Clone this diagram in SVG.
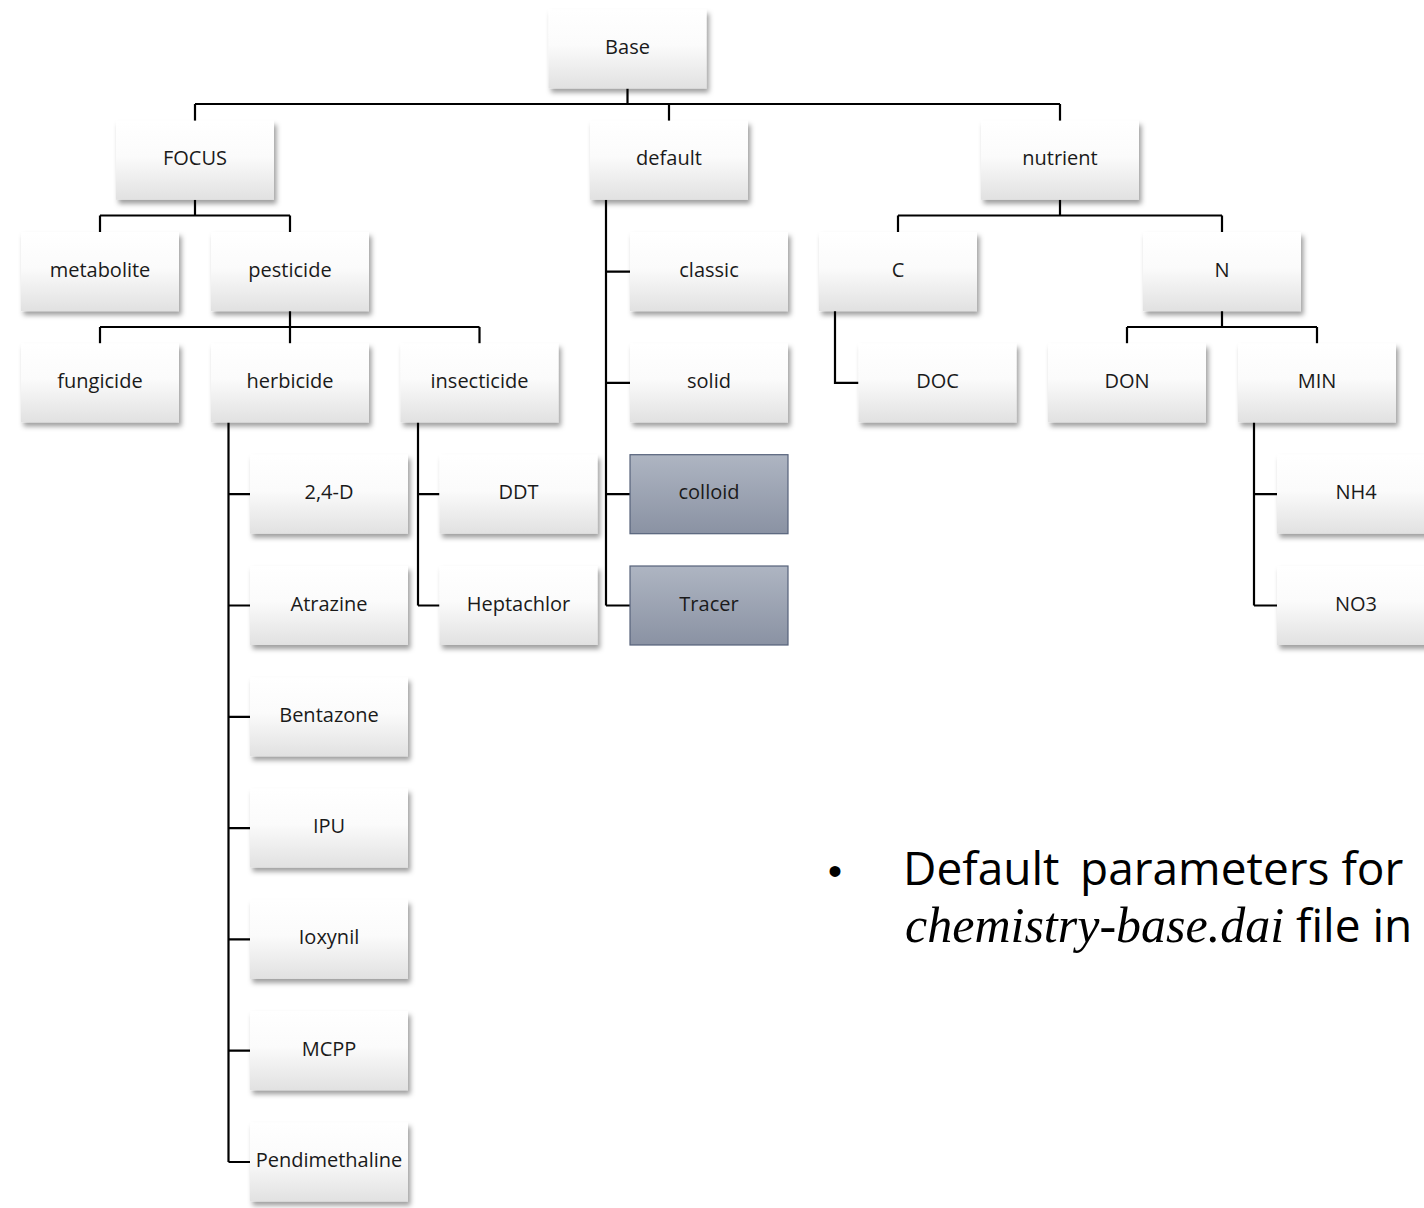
<svg xmlns="http://www.w3.org/2000/svg" width="1424" height="1208" viewBox="0 0 1424 1208">
<defs>
<linearGradient id="gw" x1="0" y1="0" x2="0" y2="1">
<stop offset="0" stop-color="#ffffff"/>
<stop offset="0.45" stop-color="#fbfbfb"/>
<stop offset="1" stop-color="#e1e1e1"/>
</linearGradient>
<linearGradient id="gg" x1="0" y1="0" x2="0" y2="1">
<stop offset="0" stop-color="#aeb5c2"/>
<stop offset="1" stop-color="#8a92a3"/>
</linearGradient>
<filter id="sh" x="-10%" y="-10%" width="130%" height="140%">
<feDropShadow dx="2.5" dy="4" stdDeviation="2.5" flood-color="#000" flood-opacity="0.38"/>
</filter>
</defs>
<style>
.n rect{fill:url(#gw);filter:url(#sh)}
.g rect{fill:url(#gg);stroke:#56627a;stroke-width:1.2}
.n text,.g text{font-family:"Open Sans","Noto Sans","Liberation Sans",sans-serif;font-size:20px;fill:#1a1a1a;text-anchor:middle}
#connectors path{fill:none;stroke:#000;stroke-width:2.2}
.big{font-family:"Open Sans","Noto Sans","Liberation Sans",sans-serif;font-size:46px;fill:#000}
.it{font-family:"Liberation Serif","Times New Roman",serif;font-style:italic;font-size:50px}
</style>
<rect width="1424" height="1208" fill="#fff"/>
<g id="connectors">
<path d="M627.5 88.5V104M195 104H1060M195 104V120.8M669 104V120.8M1060 104V120.8"/>
<path d="M195 199.8V215.5M100 215.5H290M100 215.5V232.1M290 215.5V232.1"/>
<path d="M1060 199.8V215.5M898 215.5H1222M898 215.5V232.1M1222 215.5V232.1"/>
<path d="M290 311.1V327M100 327H479.5M100 327V343.4M290 327V343.4M479.5 327V343.4"/>
<path d="M1222 311.1V327M1127 327H1317M1127 327V343.4M1317 327V343.4"/>
<path d="M606 199.8V605.5M606 271.6H630M606 382.9H630M606 494.2H630M606 605.5H630"/>
<path d="M228.5 422.4V1162M228.5 494.2H250M228.5 605.5H250M228.5 716.8H250M228.5 828.1H250M228.5 939.4H250M228.5 1050.7H250M228.5 1162H250"/>
<path d="M418 422.4V605.5M418 494.2H439.5M418 605.5H439.5"/>
<path d="M835 311.1V382.9H858.5"/>
<path d="M1254 422.4V605.5M1254 494.2H1277M1254 605.5H1277"/>
</g>
<g id="n-base" class="n"><rect x="548.5" y="9.5" width="158" height="79"/><text x="627.5" y="54">Base</text></g>
<g id="n-focus" class="n"><rect x="116" y="120.8" width="158" height="79"/><text x="195" y="165.3">FOCUS</text></g>
<g id="n-default" class="n"><rect x="590" y="120.8" width="158" height="79"/><text x="669" y="165.3">default</text></g>
<g id="n-nutrient" class="n"><rect x="981" y="120.8" width="158" height="79"/><text x="1060" y="165.3">nutrient</text></g>
<g id="n-metabolite" class="n"><rect x="21" y="232.1" width="158" height="79"/><text x="100" y="276.6">metabolite</text></g>
<g id="n-pesticide" class="n"><rect x="211" y="232.1" width="158" height="79"/><text x="290" y="276.6">pesticide</text></g>
<g id="n-classic" class="n"><rect x="630" y="232.1" width="158" height="79"/><text x="709" y="276.6">classic</text></g>
<g id="n-c" class="n"><rect x="819" y="232.1" width="158" height="79"/><text x="898" y="276.6">C</text></g>
<g id="n-n" class="n"><rect x="1143" y="232.1" width="158" height="79"/><text x="1222" y="276.6">N</text></g>
<g id="n-fungicide" class="n"><rect x="21" y="343.4" width="158" height="79"/><text x="100" y="387.9">fungicide</text></g>
<g id="n-herbicide" class="n"><rect x="211" y="343.4" width="158" height="79"/><text x="290" y="387.9">herbicide</text></g>
<g id="n-insecticide" class="n"><rect x="400.5" y="343.4" width="158" height="79"/><text x="479.5" y="387.9">insecticide</text></g>
<g id="n-solid" class="n"><rect x="630" y="343.4" width="158" height="79"/><text x="709" y="387.9">solid</text></g>
<g id="n-doc" class="n"><rect x="858.5" y="343.4" width="158" height="79"/><text x="937.5" y="387.9">DOC</text></g>
<g id="n-don" class="n"><rect x="1048" y="343.4" width="158" height="79"/><text x="1127" y="387.9">DON</text></g>
<g id="n-min" class="n"><rect x="1238" y="343.4" width="158" height="79"/><text x="1317" y="387.9">MIN</text></g>
<g id="n-24d" class="n"><rect x="250" y="454.7" width="158" height="79"/><text x="329" y="499.2">2,4-D</text></g>
<g id="n-ddt" class="n"><rect x="439.5" y="454.7" width="158" height="79"/><text x="518.5" y="499.2">DDT</text></g>
<g id="n-colloid" class="g"><rect x="630" y="454.7" width="158" height="79"/><text x="709" y="499.2">colloid</text></g>
<g id="n-nh4" class="n"><rect x="1277" y="454.7" width="158" height="79"/><text x="1356" y="499.2">NH4</text></g>
<g id="n-atrazine" class="n"><rect x="250" y="566" width="158" height="79"/><text x="329" y="610.5">Atrazine</text></g>
<g id="n-heptachlor" class="n"><rect x="439.5" y="566" width="158" height="79"/><text x="518.5" y="610.5">Heptachlor</text></g>
<g id="n-tracer" class="g"><rect x="630" y="566" width="158" height="79"/><text x="709" y="610.5">Tracer</text></g>
<g id="n-no3" class="n"><rect x="1277" y="566" width="158" height="79"/><text x="1356" y="610.5">NO3</text></g>
<g id="n-bentazone" class="n"><rect x="250" y="677.3" width="158" height="79"/><text x="329" y="721.8">Bentazone</text></g>
<g id="n-ipu" class="n"><rect x="250" y="788.6" width="158" height="79"/><text x="329" y="833.1">IPU</text></g>
<g id="n-ioxynil" class="n"><rect x="250" y="899.9" width="158" height="79"/><text x="329" y="944.4">Ioxynil</text></g>
<g id="n-mcpp" class="n"><rect x="250" y="1011.2" width="158" height="79"/><text x="329" y="1055.7">MCPP</text></g>
<g id="n-pendimethaline" class="n"><rect x="250" y="1122.5" width="158" height="79"/><text x="329" y="1167">Pendimethaline</text></g>
<g id="note">
<text x="835" y="885" font-family="Liberation Sans,Arial,sans-serif" font-size="40" text-anchor="middle">•</text>
<text class="big" x="903" y="885">Default <tspan x="1080">parameters for</tspan></text>
<text class="big" x="905" y="942"><tspan class="it">chemistry-base.dai</tspan><tspan x="1296">file in</tspan></text>
</g>
</svg>
